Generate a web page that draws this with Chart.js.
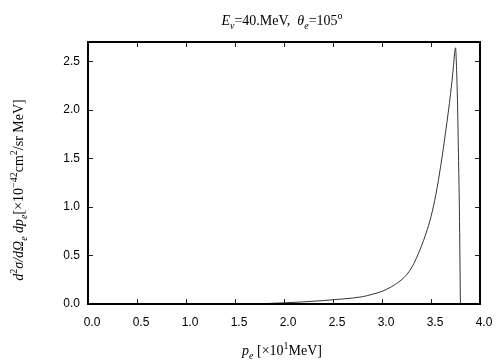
<!DOCTYPE html>
<html>
<head>
<meta charset="utf-8">
<script src="https://cdn.jsdelivr.net/npm/chart.js@4.4.1/dist/chart.umd.min.js"></script>
<style>
  html, body { margin: 0; padding: 0; background: #fff; }
  #wrap { width: 504px; height: 360px; }
</style>
</head>
<body>
<div id="wrap"><canvas id="chart"></canvas></div>
<script>
// momentum of the electron, in units of 10 MeV
const momentum = [0, 0.5, 1.0, 1.5, 1.8, 2.0, 2.2, 2.4, 2.6, 2.8, 2.9, 3.0, 3.1, 3.2, 3.25, 3.3, 3.35, 3.4, 3.45, 3.5, 3.55, 3.6, 3.65, 3.7, 3.73, 3.74, 3.75, 3.76, 3.77, 3.78, 3.79, 3.80];
// cross section, 10^-42 cm^2/sr MeV
const crossSection = [0, 0, 0, 0.001, 0.004, 0.012, 0.022, 0.035, 0.052, 0.075, 0.10, 0.13, 0.18, 0.25, 0.30, 0.37, 0.47, 0.59, 0.73, 0.90, 1.13, 1.43, 1.78, 2.17, 2.46, 2.58, 2.64, 2.45, 2.10, 1.55, 0.95, 0];
const xTicks = [0, 0.5, 1.0, 1.5, 2.0, 2.5, 3.0, 3.5, 4.0];
const yTicks = [0, 0.5, 1.0, 1.5, 2.0, 2.5];

const serif = '"Liberation Serif", "Times New Roman", serif';

// draws a list of segments {t, it, sub, sup} centred on (0,0)
function richText(ctx, parts, size) {
  const small = Math.round(size * 0.72);
  const fontFor = (p) => (p.it ? 'italic ' : '') + ((p.sub || p.sup) ? small : size) + 'px ' + serif;
  let total = 0;
  parts.forEach((p) => { ctx.font = fontFor(p); total += ctx.measureText(p.t).width; });
  let x = -total / 2;
  parts.forEach((p) => {
    ctx.font = fontFor(p);
    let dy = 0;
    if (p.sub) dy = size * 0.28;
    if (p.sup) dy = -size * 0.4;
    ctx.fillText(p.t, x, dy);
    x += ctx.measureText(p.t).width;
  });
}

const framePlugin = {
  id: 'frame',
  afterDatasetsDraw(chart) {
    const { ctx, chartArea: a, scales } = chart;
    ctx.save();
    // inward ticks on all four sides
    ctx.strokeStyle = '#222';
    ctx.lineWidth = 1;
    ctx.beginPath();
    xTicks.forEach((v) => {
      const px = Math.round(scales.x.getPixelForValue(v)) + 0.5;
      ctx.moveTo(px, a.bottom); ctx.lineTo(px, a.bottom - 5);
      ctx.moveTo(px, a.top); ctx.lineTo(px, a.top + 5);
    });
    yTicks.forEach((v) => {
      const py = Math.round(scales.y.getPixelForValue(v)) + 0.5;
      ctx.moveTo(a.left, py); ctx.lineTo(a.left + 5, py);
      ctx.moveTo(a.right, py); ctx.lineTo(a.right - 5, py);
    });
    ctx.stroke();
    // frame
    ctx.strokeStyle = '#000';
    ctx.lineWidth = 2;
    ctx.strokeRect(a.left, a.top, a.right - a.left, a.bottom - a.top);

    // texts
    ctx.fillStyle = '#000';
    ctx.textBaseline = 'alphabetic';
    ctx.textAlign = 'left';
    const cx = (a.left + a.right) / 2;
    ctx.save();
    ctx.translate(cx - 2, 25);
    richText(ctx, [
      { t: 'E', it: true }, { t: 'ν', it: true, sub: true }, { t: '=40.MeV,  ' },
      { t: 'θ', it: true }, { t: 'e', it: true, sub: true }, { t: '=105' }, { t: 'o', sup: true }
    ], 14);
    ctx.restore();

    ctx.save();
    ctx.translate(cx - 2, 355);
    richText(ctx, [
      { t: 'p', it: true }, { t: 'e', it: true, sub: true }, { t: ' [×10' }, { t: '1', sup: true }, { t: 'MeV]' }
    ], 14);
    ctx.restore();

    ctx.save();
    ctx.translate(23, 190);
    ctx.rotate(-Math.PI / 2);
    richText(ctx, [
      { t: 'd', it: true }, { t: '2', sup: true }, { t: 'σ/', it: true }, { t: 'd', it: true }, { t: 'Ω', it: true },
      { t: 'e', it: true, sub: true }, { t: ' dp', it: true }, { t: 'e', it: true, sub: true },
      { t: '[×10' }, { t: '−42', sup: true }, { t: 'cm' }, { t: '2', sup: true }, { t: '/sr MeV]' }
    ], 14);
    ctx.restore();
    ctx.restore();
  }
};

const tickFont = { family: '"Liberation Sans", Arial, sans-serif', size: 12 };

new Chart(document.getElementById('chart'), {
  type: 'scatter',
  data: {
    datasets: [{
      data: momentum.map((p, i) => ({ x: p, y: crossSection[i] })),
      showLine: true,
      borderColor: '#333',
      borderWidth: 1,
      pointRadius: 0,
      cubicInterpolationMode: 'monotone',
      clip: false
    }]
  },
  options: {
    responsive: true,
    maintainAspectRatio: false,
    animation: false,
    events: [],
    layout: { padding: { left: 0, right: 24, top: 42, bottom: 0 } },
    plugins: { legend: { display: false }, tooltip: { enabled: false } },
    scales: {
      x: {
        type: 'linear', min: 0, max: 4,
        afterBuildTicks: (s) => { s.ticks = xTicks.map((v) => ({ value: v })); },
        afterFit: (s) => { s.height = 56; },
        grid: { display: false, drawTicks: false },
        border: { display: false },
        ticks: { font: tickFont, color: '#000', padding: 11, labelOffset: 4, callback: (v) => v.toFixed(1) }
      },
      y: {
        type: 'linear', min: 0, max: 2.7,
        afterBuildTicks: (s) => { s.ticks = yTicks.map((v) => ({ value: v })); },
        afterFit: (s) => { s.width = 88; },
        grid: { display: false, drawTicks: false },
        border: { display: false },
        ticks: { font: tickFont, color: '#000', padding: 8, callback: (v) => v.toFixed(1) }
      }
    }
  },
  plugins: [framePlugin]
});
</script>
</body>
</html>
